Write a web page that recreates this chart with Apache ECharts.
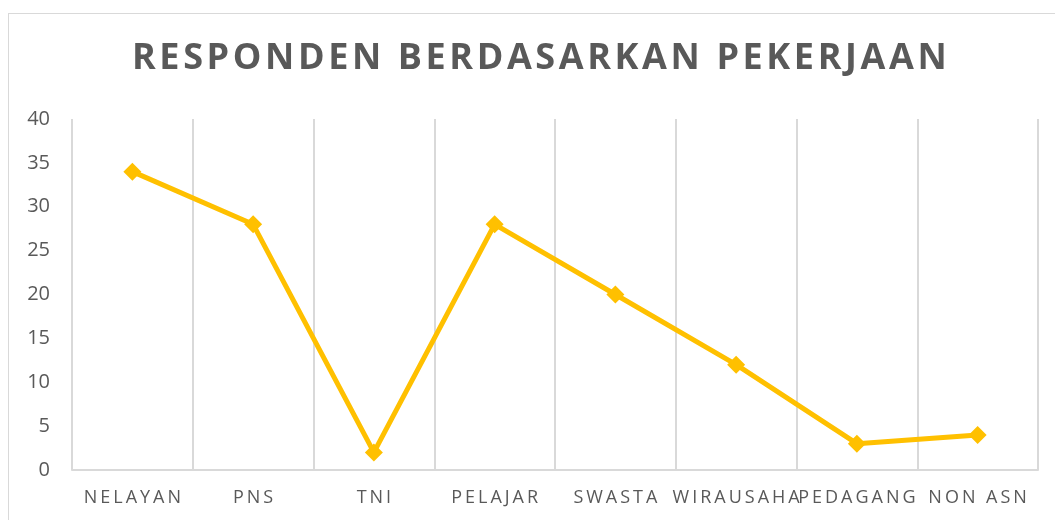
<!DOCTYPE html>
<html><head><meta charset="utf-8">
<script src="https://cdn.jsdelivr.net/npm/echarts@6/dist/echarts.min.js"></script>
<style>
html,body{margin:0;padding:0;background:#fff;}
#frame{position:absolute;left:8px;top:13px;width:1100px;height:600px;border:1px solid #d9d9d9;box-sizing:border-box;}
#c{position:absolute;left:0;top:0;width:1055px;height:520px;}
</style></head>
<body>
<div id="frame"></div>
<div id="c"></div>
<script>
const titleText = 'RESPONDEN BERDASARKAN PEKERJAAN';
const categories = ['NELAYAN','PNS','TNI','PELAJAR','SWASTA','WIRAUSAHA','PEDAGANG','NON ASN'];
const values = [34, 28, 2, 28, 20, 12, 3, 4];
const yTicks = {min: 0, max: 40, interval: 5};

function spaced(s, sp){ return s.split('').join(sp); }

const chart = echarts.init(document.getElementById('c'));
chart.setOption({
  animation:false,
  title:{
    text: spaced(titleText,'\u200A'),
    left:127, top:36, padding:5,
    textStyle:{fontFamily:'Open Sans', fontWeight:'bold', fontSize:36, color:'#595959'}
  },
  grid:{left:72, right:17, top:119, bottom:50},
  xAxis:{
    type:'category', data:categories, boundaryGap:true,
    axisLine:{show:true, lineStyle:{color:'#d9d9d9', width:2}},
    axisTick:{show:false},
    splitLine:{show:true, lineStyle:{color:'#d9d9d9', width:2}},
    axisLabel:{interval:0, margin:19, color:'#595959', fontFamily:'Open Sans', fontSize:18,
      formatter: v => spaced(v,'\u2009')}
  },
  yAxis:{
    type:'value', min:yTicks.min, max:yTicks.max, interval:yTicks.interval,
    axisLine:{show:false}, axisTick:{show:false}, splitLine:{show:false},
    axisLabel:{margin:22, color:'#595959', fontFamily:'Open Sans', fontSize:20}
  },
  series:[{
    type:'line', data:values,
    symbol:'diamond', symbolSize:18,
    lineStyle:{color:'#FFC000', width:5},
    itemStyle:{color:'#FFC000'}
  }]
});
</script>
</body></html>
